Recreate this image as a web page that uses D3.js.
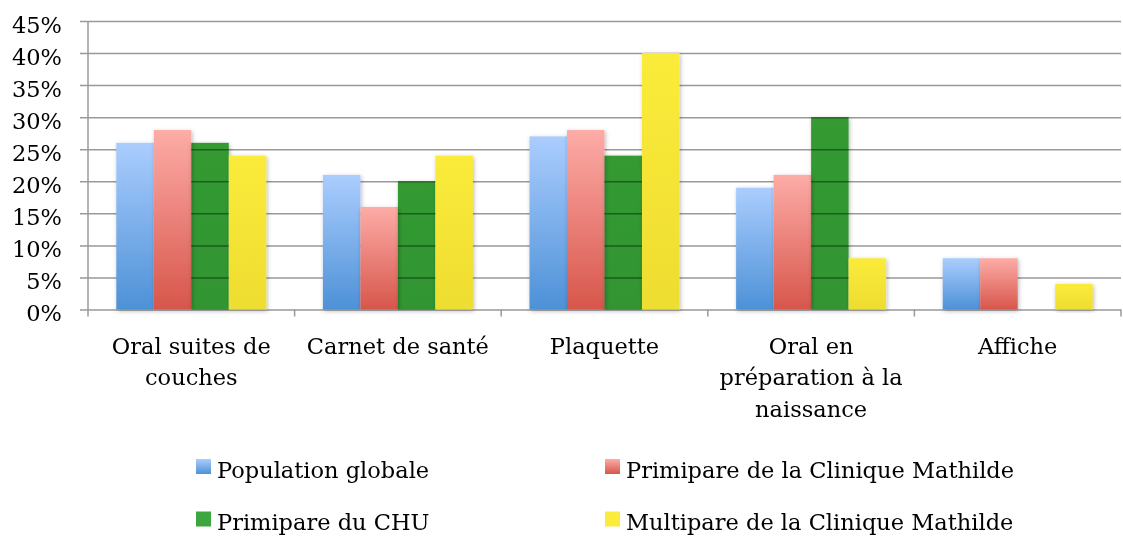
<!DOCTYPE html>
<html>
<head>
<meta charset="utf-8">
<script src="https://cdn.jsdelivr.net/npm/d3@7"></script>
<style>
  body { margin: 0; background: #fff; }
  svg { display: block; font-family: "DejaVu Serif", serif; }
</style>
</head>
<body>
<div id="chart"></div>
<script>
const categories = [
    ["Oral suites de", "couches"],
    ["Carnet de santé"],
    ["Plaquette"],
    ["Oral en", "préparation à la", "naissance"],
    ["Affiche"]
];
const seriesNames = [
    "Population globale",
    "Primipare de la Clinique Mathilde",
    "Primipare du CHU",
    "Multipare de la Clinique Mathilde"
];
const populationGlobale = [26, 21, 27, 19, 8];
const primipareMathilde = [28, 16, 28, 21, 8];
const primipareCHU = [26, 20, 24, 30, 0];
const multipareMathilde = [24, 24, 40, 8, 4];
const yTicks = [0, 5, 10, 15, 20, 25, 30, 35, 40, 45];

const seriesValues = [populationGlobale, primipareMathilde, primipareCHU, multipareMathilde];

const W = 1123, H = 536;
const margin = { top: 21, right: 2, bottom: 226.5, left: 88 };
const plotW = W - margin.left - margin.right,
      plotH = H - margin.top - margin.bottom;

const svg = d3.select("#chart").append("svg")
    .attr("width", W)
    .attr("height", H);

const defs = svg.append("defs");
const grads = [
    { id: "gBlue", top: "#abcdfe", bottom: "#4d91d7" },
    { id: "gRed", top: "#fdaca7", bottom: "#d7564b" },
    { id: "gGreen", top: "#349a33", bottom: "#309530" },
    { id: "gYellow", top: "#fbeb3a", bottom: "#eedd31" }
];
grads.forEach(g => {
    const lg = defs.append("linearGradient").attr("id", g.id)
        .attr("x1", 0).attr("y1", 0).attr("x2", 0).attr("y2", 1);
    lg.append("stop").attr("offset", "0%").attr("stop-color", g.top);
    lg.append("stop").attr("offset", "100%").attr("stop-color", g.bottom);
});
const legendFills = ["url(#gBlue)", "url(#gRed)", "#3ea63e", "#fdeb3c"];

const shadow = defs.append("filter").attr("id", "shadow")
    .attr("x", "-20%").attr("y", "-10%").attr("width", "140%").attr("height", "120%");
shadow.append("feDropShadow")
    .attr("dx", 1).attr("dy", 1.5).attr("stdDeviation", 2)
    .attr("flood-color", "#000").attr("flood-opacity", 0.28);

const g = svg.append("g").attr("transform", `translate(${margin.left},${margin.top})`);

const x0 = d3.scaleBand()
    .domain(d3.range(categories.length))
    .range([0, plotW])
    .padding(0);

const x1 = d3.scaleBand()
    .domain(d3.range(seriesNames.length))
    .range([0, x0.bandwidth()])
    .paddingInner(0)
    .paddingOuter(0.755);

const y = d3.scaleLinear().domain([0, 45]).range([plotH, 0]);

// gridlines + y axis
const yAxis = g.append("g")
    .call(d3.axisLeft(y).tickValues(yTicks).tickSize(8).tickPadding(18).tickFormat(d => d + "%"));
yAxis.select(".domain").remove();
yAxis.selectAll(".tick line").attr("stroke", "#999").attr("stroke-width", 1.5)
    .attr("x2", plotW).attr("x1", -8);
yAxis.selectAll(".tick text")
    .attr("fill", "#000")
    .style("font-size", "22.5px")
    .style("font-family", "DejaVu Serif, serif")
    .attr("dy", "0.5em");

g.append("line")
    .attr("x1", 0).attr("x2", 0).attr("y1", 0).attr("y2", plotH)
    .attr("stroke", "#999").attr("stroke-width", 1.5);

// category ticks
g.selectAll(".cat-tick")
    .data(d3.range(categories.length + 1))
    .enter().append("line")
    .attr("x1", d => d < categories.length ? x0(d) : plotW)
    .attr("x2", d => d < categories.length ? x0(d) : plotW)
    .attr("y1", plotH).attr("y2", plotH + 7)
    .attr("stroke", "#999").attr("stroke-width", 1.5);

// bars
const groups = g.selectAll(".grp")
    .data(categories)
    .enter().append("g")
    .attr("transform", (d, i) => `translate(${x0(i)},0)`);

groups.selectAll("rect")
    .data((d, i) => seriesValues.map((s, k) => ({ k, v: s[i] })).filter(d => d.v > 0))
    .enter().append("rect")
    .attr("x", d => x1(d.k))
    .attr("y", d => y(d.v))
    .attr("width", x1.bandwidth())
    .attr("height", d => plotH - y(d.v))
    .attr("fill", d => `url(#${grads[d.k].id})`)
    .attr("filter", "url(#shadow)")
    .style("mix-blend-mode", d => d.k === 2 ? "multiply" : null);

// category labels
const labels = g.selectAll(".cat-label")
    .data(categories)
    .enter().append("text")
    .attr("text-anchor", "middle")
    .attr("fill", "#000")
    .style("font-size", "22.5px")
    .attr("transform", (d, i) => `translate(${x0(i) + x0.bandwidth() / 2},${plotH + 44})`);
labels.selectAll("tspan")
    .data(d => d)
    .enter().append("tspan")
    .attr("x", 0)
    .attr("y", (d, i) => i * 31.7)
    .text(d => d);

// legend
const legendPos = [[196, 459], [605, 459], [196, 511.5], [605, 511.5]];
const legend = svg.selectAll(".legend")
    .data(seriesNames)
    .enter().append("g")
    .attr("transform", (d, i) => `translate(${legendPos[i][0]},${legendPos[i][1]})`);
legend.append("rect")
    .attr("width", 15).attr("height", 15)
    .attr("fill", (d, i) => legendFills[i]);
legend.append("text")
    .attr("x", 21).attr("y", 18.5)
    .attr("fill", "#000")
    .style("font-size", "22.5px")
    .text(d => d);
</script>
</body>
</html>
